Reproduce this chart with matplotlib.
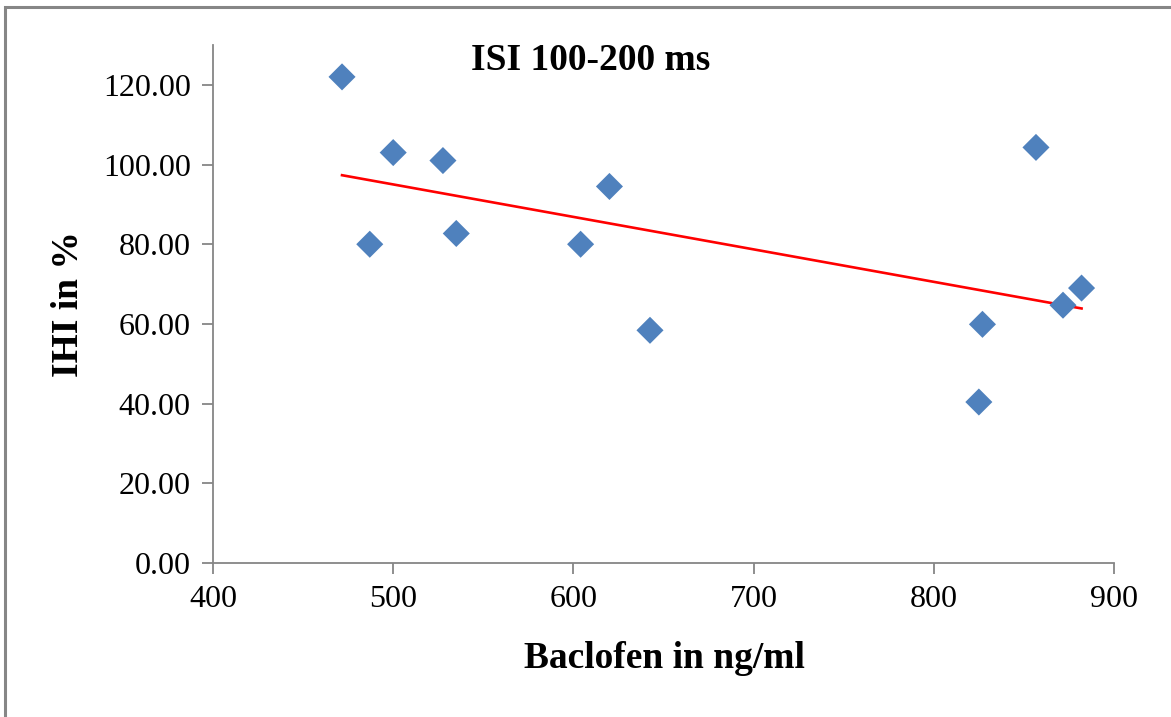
import numpy as np
import matplotlib
matplotlib.use("Agg")
import matplotlib.pyplot as plt
from matplotlib.patches import Rectangle

# baclofen level vs IHI
baclofen = [471.6, 487, 500, 527.6, 535, 604, 620, 642.5, 825, 827, 856.7, 871.7, 882]
ihi = [122.0, 80.0, 103.0, 101.0, 82.7, 80.0, 94.5, 58.4, 40.4, 59.9, 104.3, 64.7, 69.0]

x_ticks = [400, 500, 600, 700, 800, 900]
y_ticks = [0, 20, 40, 60, 80, 100, 120]

plt.rcParams["font.family"] = ["Liberation Serif", "DejaVu Serif"]

fig = plt.figure(figsize=(11.71, 7.17), dpi=100)
W, H = 1171, 717

# grey frame of the chart area (right and bottom edges fall outside the picture)
fig.patches.append(Rectangle((5.5 / W, -20 / H), 1200 / W, (717 - 7 + 20) / H,
                             transform=fig.transFigure, fill=False,
                             edgecolor="#868686", linewidth=2.2))

ax = fig.add_axes([213 / W, 1 - 563 / H, 901 / W, (563 - 45) / H])

ax.scatter(baclofen, ihi, marker="D", s=190, color="#4F81BD", edgecolors="none", zorder=3)

# linear trend line
x = np.array(baclofen)
slope, intercept = np.polyfit(x, np.array(ihi), 1)
xs = np.array([x.min(), x.max()])
ax.plot(xs, slope * xs + intercept, color="#FF0000", linewidth=1.9, zorder=2)

ax.set_xlim(400, 900)
ax.set_ylim(0, 130)
ax.set_xticks(x_ticks)
ax.set_yticks(y_ticks)
ax.set_yticklabels(["%.2f" % v for v in y_ticks])

for s in ["top", "right"]:
    ax.spines[s].set_visible(False)
for s in ["left", "bottom"]:
    ax.spines[s].set_color("#868686")
    ax.spines[s].set_linewidth(1.3)
    ax.spines[s].set_clip_on(False)

ax.tick_params(axis="both", direction="out", length=8, width=1.3, color="#868686",
               labelsize=23, labelcolor="black")
ax.tick_params(axis="x", pad=8)
ax.tick_params(axis="y", pad=8)

fig.text(591 / W, 1 - 70 / H, "ISI 100-200 ms", fontsize=27, fontweight="bold",
         ha="center", va="baseline")
fig.text(664 / W, 1 - 668 / H, "Baclofen in ng/ml", fontsize=27, fontweight="bold",
         ha="center", va="baseline")
fig.text(68 / W, 1 - 304 / H, "IHI in %", fontsize=27, fontweight="bold",
         ha="center", va="center", rotation=90)

fig.savefig("out.png", dpi=100)
